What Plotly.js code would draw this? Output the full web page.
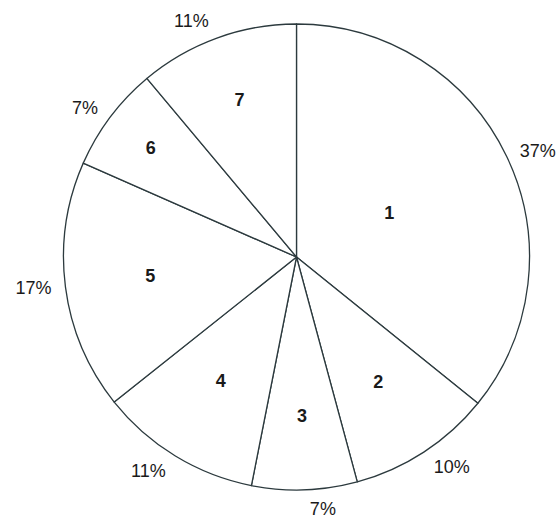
<!DOCTYPE html>
<html><head><meta charset="utf-8">
<script src="https://cdn.plot.ly/plotly-3.0.1.min.js"></script>
<style>html,body{margin:0;padding:0;background:#fff}</style>
</head><body><div id="chart" style="width:557px;height:522px"></div>
<script>
const sliceLabels = ['1', '2', '3', '4', '5', '6', '7'];
const sliceShares = [35.8, 10.0, 7.3, 11.2, 17.3, 7.3, 11.1];
const pctLabels = ['37%', '10%', '7%', '11%', '17%', '7%', '11%'];
// which inner-label ring each slice number is written in (0 = nearer centre, 1 = nearer rim)
const labelRing = [0, 0, 0, 0, 1, 1, 1];

const W = 557, H = 522;
const cx = 296.5, cy = 257, R = 233;
function domainFor(r) {
  const fx = cx / W, fy = (H - cy) / H;
  return {x: [fx - r / W, fx + r / W], y: [fy - r / H, fy + r / H]};
}
const lineCol = '#2c3a3e';
const font = 'Liberation Sans, Arial, sans-serif';
const base = {type: 'pie', labels: sliceLabels, values: sliceShares, sort: false,
  direction: 'clockwise', rotation: 0, hoverinfo: 'none', showlegend: false, automargin: false};
const clear = sliceLabels.map(() => 'rgba(0,0,0,0)');

const main = Object.assign({}, base, {
  domain: domainFor(R),
  marker: {colors: sliceLabels.map(() => '#ffffff'), line: {color: lineCol, width: 1.3}},
  textinfo: 'none'
});
function innerTrace(ring, scale) {
  return Object.assign({}, base, {
    domain: domainFor(R * scale),
    marker: {colors: clear, line: {width: 0}},
    text: sliceLabels.map((l, i) => labelRing[i] === ring ? l : ''),
    texttemplate: '%{text}', textposition: 'inside', insidetextorientation: 'horizontal',
    insidetextfont: {family: font, size: 18, color: '#1a1a1a', weight: 700}
  });
}
const outer = Object.assign({}, base, {
  domain: domainFor(242),
  marker: {colors: clear, line: {width: 0}},
  text: pctLabels, texttemplate: '%{text}', textposition: 'outside',
  outsidetextfont: {family: font, size: 18, color: '#1a1a1a'}
});

Plotly.newPlot('chart', [main, innerTrace(0, 0.84), innerTrace(1, 0.96), outer], {
  width: W, height: H,
  margin: {l: 0, r: 0, t: 0, b: 0},
  paper_bgcolor: '#ffffff', plot_bgcolor: '#ffffff',
  showlegend: false
}, {displayModeBar: false, staticPlot: true});
</script></body></html>
